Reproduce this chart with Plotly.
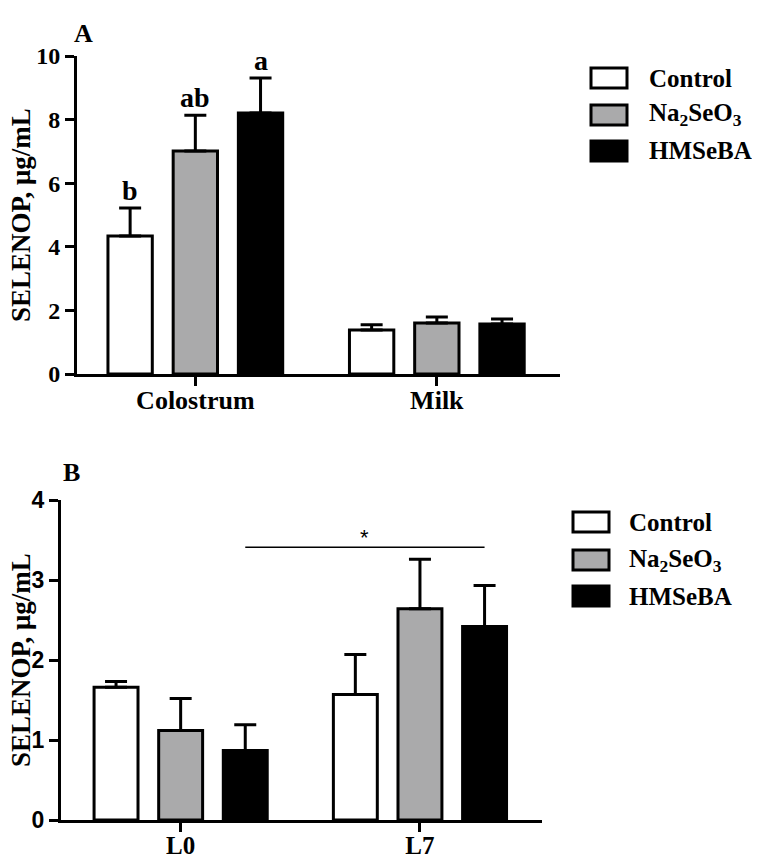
import plotly.graph_objects as go

# treatment groups
groups = ["Control", "Na<sub>2</sub>SeO<sub>3</sub>", "HMSeBA"]
fills = ["white", "#aaaaab", "black"]
y_title = "SELENOP, μg/mL"

# panel A: colostrum / milk
cat_a = ["Colostrum", "Milk"]
a_control = [4.34, 1.38]
a_control_err = [0.88, 0.17]
a_na = [7.01, 1.60]
a_na_err = [1.13, 0.19]
a_hm = [8.21, 1.57]
a_hm_err = [1.10, 0.16]
letters_a = ["b", "ab", "a"]  # colostrum only

# panel B: L0 / L7
cat_b = ["L0", "L7"]
b_control = [1.66, 1.57]
b_control_err = [0.07, 0.50]
b_na = [1.12, 2.64]
b_na_err = [0.40, 0.62]
b_hm = [0.87, 2.42]
b_hm_err = [0.32, 0.51]
sig_y = 3.41

# page has an 8px body margin, so the figure is a bit smaller than the window
OFF = 8
W, H = 760 - OFF, 858 - OFF
serif = "Liberation Serif"
sans = "Liberation Sans"
bargap = 0.19
slot = (1 - bargap) / 3


def px(x):
    return (x - OFF) / W


def py(y):
    return 1 - (y - OFF) / H


fig = go.Figure()

series_a = [(a_control, a_control_err), (a_na, a_na_err), (a_hm, a_hm_err)]
series_b = [(b_control, b_control_err), (b_na, b_na_err), (b_hm, b_hm_err)]

for (vals, err), name, col in zip(series_a, groups, fills):
    fig.add_trace(go.Bar(x=cat_a, y=vals, name=name, showlegend=False,
                         marker=dict(color=col, line=dict(color="black", width=3)),
                         error_y=dict(type="data", symmetric=False, array=err,
                                      arrayminus=[0] * len(err), color="black",
                                      thickness=3, width=11),
                         xaxis="x", yaxis="y"))

for (vals, err), name, col in zip(series_b, groups, fills):
    fig.add_trace(go.Bar(x=cat_b, y=vals, name=name, showlegend=False,
                         marker=dict(color=col, line=dict(color="black", width=3)),
                         error_y=dict(type="data", symmetric=False, array=err,
                                      arrayminus=[0] * len(err), color="black",
                                      thickness=3, width=11),
                         xaxis="x2", yaxis="y2"))

axis_common = dict(showline=True, linecolor="black", linewidth=3, ticks="outside",
                   ticklen=9, tickwidth=3, tickcolor="black", showgrid=False,
                   zeroline=False, automargin=False)

annotations = []
# significance letters over colostrum bars
for i, (lab, (vals, err)) in enumerate(zip(letters_a, series_a)):
    annotations.append(dict(x=(i - 1) * slot, y=vals[0] + err[0], xref="x", yref="y",
                            text=lab, showarrow=False, yanchor="bottom", yshift=0,
                            font=dict(family=serif, size=28, color="black", weight="bold")))

# star over L0..L7 comparison
x0, x1 = slot, 1 + slot
fig.add_shape(type="line", xref="x2", yref="y2", x0=x0, x1=x1, y0=sig_y, y1=sig_y,
              line=dict(color="black", width=1.5))
annotations.append(dict(x=(x0 + x1) / 2, y=sig_y, xref="x2", yref="y2", text="*",
                        showarrow=False, yanchor="bottom", yshift=-5,
                        font=dict(family=sans, size=22, color="black")))

# panel labels
annotations.append(dict(x=px(72), y=py(17), xref="paper", yref="paper", text="A",
                        showarrow=False, font=dict(family=serif, size=26, color="black", weight="bold")))
annotations.append(dict(x=px(61), y=py(472), xref="paper", yref="paper", text="B",
                        showarrow=False, font=dict(family=serif, size=26, color="black", weight="bold")))

# y-axis titles
title_font = dict(family=serif, size=27, color="black", weight="bold")
for ycen in (215, 660):
    annotations.append(dict(x=px(21), y=py(ycen), xref="paper", yref="paper", text=y_title,
                            textangle=-90, showarrow=False, xanchor="center",
                            yanchor="middle", font=title_font))

# legends drawn as boxes + text
def legend(box_x, text_x, centers):
    for name, col, cy in zip(groups, fills, centers):
        fig.add_shape(type="rect", xref="paper", yref="paper",
                      x0=px(box_x), x1=px(box_x + 36), y0=py(cy - 10), y1=py(cy + 10),
                      fillcolor=col, line=dict(color="black", width=3))
        annotations.append(dict(x=px(text_x), y=py(cy), xref="paper", yref="paper",
                                text=name, showarrow=False, xanchor="left", yanchor="middle",
                                font=dict(family=serif, size=25, color="black", weight="bold")))


legend(591, 647, [78, 115, 151])
legend(573, 627, [522, 560, 596])

fig.update_layout(
    width=W, height=H,
    margin=dict(l=0, r=0, t=0, b=0),
    paper_bgcolor="white", plot_bgcolor="white",
    barmode="group", bargap=bargap, bargroupgap=0.32,
    xaxis=dict(domain=[px(77), px(560)], range=[-0.49, 1.51], anchor="y",
               tickfont=dict(family=serif, size=26, color="black", weight="bold"),
               ticklabelstandoff=-8, **axis_common),
    yaxis=dict(domain=[py(374), py(56)], range=[0, 10], dtick=2, anchor="x",
               tickfont=dict(family=serif, size=24, color="black", weight="bold"),
               **axis_common),
    xaxis2=dict(domain=[px(61), px(542)], range=[-0.5, 1.51], anchor="y2",
                tickfont=dict(family=serif, size=25, color="black", weight="bold"),
                ticklabelstandoff=-8, **axis_common),
    yaxis2=dict(domain=[py(820), py(500)], range=[0, 4], dtick=1, anchor="x2",
                tickfont=dict(family=sans, size=23, color="black", weight="bold"),
                **axis_common),
    annotations=annotations,
)

fig.write_html("out.html")
